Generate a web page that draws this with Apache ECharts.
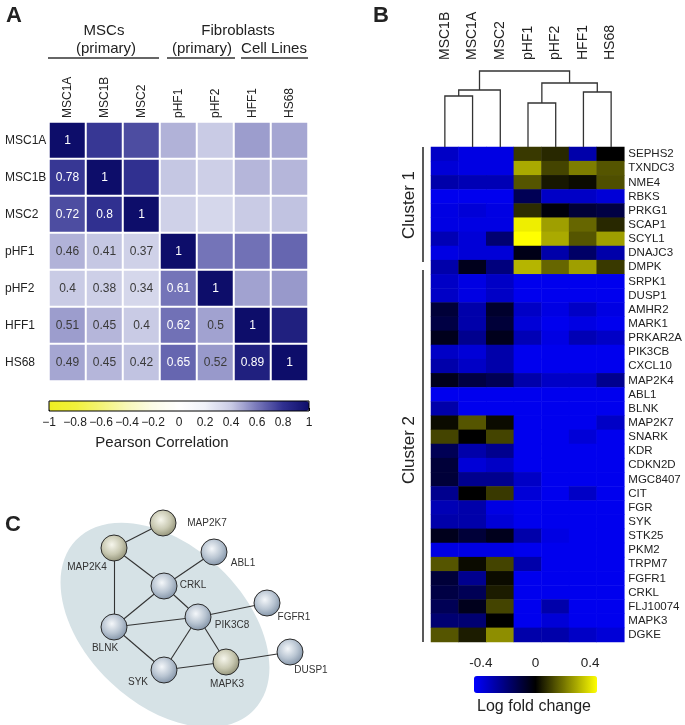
<!DOCTYPE html>
<html><head><meta charset="utf-8">
<script src="https://cdn.jsdelivr.net/npm/echarts@6/dist/echarts.min.js"></script>
<style>html,body{margin:0;padding:0;background:#fff}#c{width:685px;height:725px}</style>
</head><body><div id="c"></div>
<script>
// ---------- Panel A data ----------
const corrSamples = ['MSC1A','MSC1B','MSC2','pHF1','pHF2','HFF1','HS68'];
const corrMatrix = [
  [1,0.78,0.72,0.46,0.4,0.51,0.49],
  [0.78,1,0.8,0.41,0.38,0.45,0.45],
  [0.72,0.8,1,0.37,0.34,0.4,0.42],
  [0.46,0.41,0.37,1,0.61,0.62,0.65],
  [0.4,0.38,0.34,0.61,1,0.5,0.52],
  [0.51,0.45,0.4,0.62,0.5,1,0.89],
  [0.49,0.45,0.42,0.65,0.52,0.89,1]
];
const corrMin = -1, corrMax = 1, corrTickStep = 0.2;

// ---------- Panel B data ----------
const geneSamples = ['MSC1B','MSC1A','MSC2','pHF1','pHF2','HFF1','HS68'];
const genes = ['SEPHS2','TXNDC3','NME4','RBKS','PRKG1','SCAP1','SCYL1','DNAJC3','DMPK',
  'SRPK1','DUSP1','AMHR2','MARK1','PRKAR2A','PIK3CB','CXCL10','MAP2K4','ABL1','BLNK',
  'MAP2K7','SNARK','KDR','CDKN2D','MGC8407','CIT','FGR','SYK','STK25','PKM2','TRPM7',
  'FGFR1','CRKL','FLJ10074','MAPK3','DGKE'];
const foldChange = [
  [-0.35,-0.4,-0.4,0.1,0.07,-0.3,0.0],
  [-0.38,-0.4,-0.4,0.3,0.12,0.22,0.15],
  [-0.3,-0.32,-0.32,0.15,0.04,0.02,0.14],
  [-0.42,-0.42,-0.42,-0.15,-0.35,-0.35,-0.38],
  [-0.4,-0.38,-0.4,0.08,-0.02,-0.1,-0.12],
  [-0.4,-0.4,-0.4,0.42,0.28,0.18,0.07],
  [-0.32,-0.38,-0.2,0.45,0.3,0.15,0.28],
  [-0.4,-0.38,-0.38,-0.04,-0.3,-0.18,-0.3],
  [-0.3,-0.05,-0.22,0.32,0.18,0.28,0.1],
  [-0.35,-0.4,-0.35,-0.42,-0.42,-0.42,-0.42],
  [-0.35,-0.4,-0.35,-0.42,-0.42,-0.42,-0.42],
  [-0.1,-0.3,-0.08,-0.35,-0.4,-0.35,-0.4],
  [-0.12,-0.3,-0.1,-0.38,-0.42,-0.4,-0.42],
  [-0.05,-0.25,-0.05,-0.32,-0.4,-0.32,-0.35],
  [-0.35,-0.38,-0.3,-0.42,-0.42,-0.42,-0.42],
  [-0.3,-0.35,-0.3,-0.42,-0.42,-0.42,-0.42],
  [-0.05,-0.12,-0.15,-0.3,-0.35,-0.35,-0.25],
  [-0.42,-0.42,-0.42,-0.42,-0.42,-0.42,-0.42],
  [-0.3,-0.42,-0.42,-0.42,-0.42,-0.42,-0.42],
  [0.02,0.15,0.02,-0.42,-0.42,-0.42,-0.35],
  [0.12,0.0,0.12,-0.42,-0.42,-0.38,-0.42],
  [-0.15,-0.3,-0.25,-0.42,-0.42,-0.42,-0.42],
  [-0.1,-0.38,-0.35,-0.42,-0.42,-0.42,-0.42],
  [-0.1,-0.25,-0.25,-0.35,-0.42,-0.42,-0.42],
  [-0.25,0.0,0.1,-0.38,-0.42,-0.35,-0.42],
  [-0.32,-0.3,-0.4,-0.42,-0.42,-0.42,-0.42],
  [-0.3,-0.3,-0.38,-0.42,-0.42,-0.42,-0.42],
  [-0.05,-0.1,-0.05,-0.3,-0.4,-0.42,-0.42],
  [-0.4,-0.4,-0.4,-0.42,-0.42,-0.42,-0.42],
  [0.15,0.02,0.12,-0.3,-0.42,-0.42,-0.42],
  [-0.1,-0.25,0.02,-0.42,-0.42,-0.42,-0.42],
  [-0.12,-0.15,0.05,-0.42,-0.42,-0.42,-0.42],
  [-0.15,-0.05,0.12,-0.42,-0.3,-0.42,-0.42],
  [-0.2,-0.2,0.0,-0.42,-0.38,-0.42,-0.42],
  [0.15,0.05,0.25,-0.3,-0.3,-0.35,-0.38]
];
const foldMin = -0.45, foldMax = 0.45;
const foldTickLabels = [-0.4, 0, 0.4];
// dendrogram merges: [childA, childB, height]; leaves are 0..6, merges numbered 7..
const dendroMerges = [[0,1,0.51],[7,2,0.57],[3,4,0.44],[5,6,0.55],[9,10,0.64],[8,11,0.76]];

// ---------- Panel C data ----------
const netNodes = ['MAP2K7','MAP2K4','ABL1','CRKL','FGFR1','PIK3C8','BLNK','MAPK3','SYK','DUSP1'];
const netX = [163,114,214,164,267,198,114,226,164,290];
const netY = [23,48,52,86,103,117,127,162,170,152];
const netYellow = ['MAP2K7','MAP2K4','MAPK3'];
const netLinks = [['MAP2K7','MAP2K4'],['MAP2K4','CRKL'],['MAP2K4','BLNK'],['ABL1','CRKL'],
  ['CRKL','BLNK'],['CRKL','PIK3C8'],['BLNK','PIK3C8'],['BLNK','SYK'],['PIK3C8','FGFR1'],
  ['PIK3C8','SYK'],['PIK3C8','MAPK3'],['SYK','MAPK3'],['MAPK3','DUSP1']];

// ---------- build ----------
const FONT = 'Arial, "Liberation Sans", sans-serif';
const TXT = '#222';

const corrData = [];
corrMatrix.forEach((row, r) => row.forEach((v, c) => {
  const item = {value: [c, r, v]};
  if (r >= c) item.label = {show: true, color: v >= 0.55 ? '#fff' : '#3a3a3a'};
  else item.label = {show: false};
  corrData.push(item);
}));

const foldData = [];
foldChange.forEach((row, r) => row.forEach((v, c) => foldData.push([c, r, v])));

// dendrogram segments
const nodeX = geneSamples.map((_, i) => i);
const nodeH = geneSamples.map(() => 0);
const dendroLines = [];
dendroMerges.forEach(([a, b, h]) => {
  dendroLines.push({coords: [[nodeX[a], nodeH[a]], [nodeX[a], h], [nodeX[b], h], [nodeX[b], nodeH[b]]]});
  nodeX.push((nodeX[a] + nodeX[b]) / 2);
  nodeH.push(h);
});

// network label offsets (style)
const labelOffsets = {
  MAP2K7: [44, 0], MAP2K4: [-27, 19], ABL1: [29, 11], CRKL: [29, -1], FGFR1: [27, 14],
  PIK3C8: [34, 8], BLNK: [-9, 21], MAPK3: [1, 22], SYK: [-26, 12], DUSP1: [21, 18]
};
const sphere = (yellow) => ({
  type: 'radial', x: 0.42, y: 0.38, r: 0.65,
  colorStops: yellow
    ? [{offset: 0, color: '#f6f6ec'}, {offset: 0.55, color: '#c9c9b2'}, {offset: 1, color: '#8e8e74'}]
    : [{offset: 0, color: '#f4f7fa'}, {offset: 0.55, color: '#b9c5d2'}, {offset: 1, color: '#7f90a4'}]
});
const graphNodes = netNodes.map((n, i) => ({
  name: n, value: [netX[i], netY[i]],
  itemStyle: {color: sphere(netYellow.includes(n)), borderColor: '#2a2a2a', borderWidth: 1},
  label: {show: true, position: 'inside', offset: labelOffsets[n], formatter: n,
          fontSize: 10, color: '#333', fontFamily: FONT}
}));
const graphLinks = netLinks.map(([s, t]) => ({source: s, target: t}));

const fmtMinus = v => (Math.abs(v) < 1e-9 ? '0' : String(+v.toFixed(2)).replace('-', '\u2212'));

const hdr = (text, x, y, size, weight) => ({
  type: 'text', x, y, style: {text, fontSize: size, fontWeight: weight || 'normal', fontFamily: FONT,
  fill: TXT, align: 'center', verticalAlign: 'middle'}
});
const hline = (x1, x2, y) => ({type: 'line', shape: {x1, y1: y, x2, y2: y}, style: {stroke: '#333', lineWidth: 1.5}});
const vline = (x, y1, y2) => ({type: 'line', shape: {x1: x, y1, x2: x, y2}, style: {stroke: '#222', lineWidth: 1.5}});

const chart = echarts.init(document.getElementById('c'), null, {renderer: 'canvas'});
chart.setOption({
  animation: false,
  backgroundColor: '#fff',
  textStyle: {fontFamily: FONT},
  grid: [
    {left: 49, top: 122, width: 259, height: 259},             // 0 corr heatmap
    {left: 431, top: 147, width: 194, height: 495},            // 1 fold heatmap
    {left: 431, top: 66, width: 194, height: 81},              // 2 dendrogram
    {left: 0, top: 500, width: 340, height: 225},              // 3 network
    {left: 49, top: 401, width: 260, height: 10},              // 4 corr colorbar axis
    {left: 474, top: 676, width: 123, height: 17}              // 5 fold colorbar axis
  ],
  xAxis: [
    {gridIndex: 0, type: 'category', data: corrSamples, position: 'top',
     axisLine: {show: false}, axisTick: {show: false},
     axisLabel: {rotate: -90, margin: 4, fontSize: 12, color: TXT, fontFamily: FONT}},
    {gridIndex: 1, type: 'category', data: geneSamples, position: 'top',
     axisLine: {show: false}, axisTick: {show: false},
     axisLabel: {rotate: -90, margin: 87, fontSize: 14, color: TXT, fontFamily: FONT}},
    {gridIndex: 2, type: 'value', min: -0.5, max: 6.5, show: false},
    {gridIndex: 3, type: 'value', min: 0, max: 340, show: false},
    {gridIndex: 4, type: 'value', min: corrMin, max: corrMax, interval: corrTickStep, position: 'bottom',
     axisLine: {show: false}, splitLine: {show: false},
     axisTick: {show: true, inside: true, length: 3, lineStyle: {color: '#000'}},
     axisLabel: {margin: 6, fontSize: 12, color: TXT, fontFamily: FONT, formatter: fmtMinus}},
    {gridIndex: 5, type: 'value', min: foldMin, max: foldMax, position: 'top',
     axisLine: {show: false}, splitLine: {show: false}, axisTick: {show: false},
     axisLabel: {margin: 6, fontSize: 13.5, color: TXT, fontFamily: FONT, customValues: foldTickLabels,
                 formatter: v => (v === 0 ? '0' : String(v))}}
  ],
  yAxis: [
    {gridIndex: 0, type: 'category', data: corrSamples, inverse: true,
     axisLine: {show: false}, axisTick: {show: false},
     axisLabel: {align: 'left', margin: 44, fontSize: 12, color: TXT, fontFamily: FONT}},
    {gridIndex: 1, type: 'category', data: genes, inverse: true, position: 'right',
     axisLine: {show: false}, axisTick: {show: false},
     axisLabel: {margin: 4, fontSize: 11.5, color: TXT, fontFamily: FONT, interval: 0}},
    {gridIndex: 2, type: 'value', min: 0, max: 0.81, show: false},
    {gridIndex: 3, type: 'value', min: 0, max: 225, inverse: true, show: false},
    {gridIndex: 4, type: 'value', show: false},
    {gridIndex: 5, type: 'value', show: false}
  ],
  visualMap: [
    {type: 'continuous', seriesIndex: 0, min: corrMin, max: corrMax, orient: 'horizontal',
     left: 49, top: 401, itemWidth: 10, itemHeight: 260, padding: 0, calculable: false,
     text: null, showLabel: false, hoverLink: false,
     inRange: {color: ['#eeee22','#f1f13a','#f4f476','#f8f8b8','#fcfce8','#ffffff',
                       '#f0f2f9','#c9cbe5','#7878ba','#303090','#0d0d6a']}},
    {type: 'continuous', seriesIndex: 1, min: foldMin, max: foldMax, orient: 'horizontal',
     left: 474, top: 676, itemWidth: 17, itemHeight: 123, padding: 0, calculable: false,
     text: null, showLabel: false, hoverLink: false,
     inRange: {color: ['#0000ff', '#000000', '#ffff00']}}
  ],
  series: [
    {type: 'heatmap', xAxisIndex: 0, yAxisIndex: 0, data: corrData,
     itemStyle: {borderColor: '#fff', borderWidth: 2},
     label: {fontSize: 12, fontFamily: FONT, formatter: p => String(p.value[2])}},
    {type: 'heatmap', xAxisIndex: 1, yAxisIndex: 1, data: foldData},
    {type: 'lines', coordinateSystem: 'cartesian2d', xAxisIndex: 2, yAxisIndex: 2, polyline: true,
     data: dendroLines, lineStyle: {color: '#333', width: 1.3, opacity: 1}},
    {type: 'graph', coordinateSystem: 'cartesian2d', xAxisIndex: 3, yAxisIndex: 3,
     symbolSize: 26, data: graphNodes, links: graphLinks, z: 3,
     lineStyle: {color: '#333', width: 1.1, opacity: 1, curveness: 0}}
  ],
  graphic: [
    {type: 'ellipse', x: 165, y: 625, rotation: -0.76, shape: {cx: 0, cy: 0, rx: 123, ry: 79},
     style: {fill: '#d6e2e6'}, z: 0},
    {type: 'rect', shape: {x: 49, y: 401, width: 260, height: 10},
     style: {fill: null, stroke: '#000', lineWidth: 1}, z: 100},
    hdr('A', 14, 16, 22, 'bold'),
    hdr('B', 381, 16, 22, 'bold'),
    hdr('C', 13, 525, 22, 'bold'),
    hdr('MSCs', 104, 31, 15), hdr('(primary)', 106, 49, 15),
    hdr('Fibroblasts', 238, 31, 15), hdr('(primary)', 202, 49, 15), hdr('Cell Lines', 274, 49, 15),
    hline(48, 159, 58), hline(167, 235, 58), hline(241, 308, 58),
    hdr('Pearson Correlation', 162, 443, 15),
    hdr('Log fold change', 534, 707, 16),
    vline(423, 147, 262), vline(423, 270, 642),
    Object.assign(hdr('Cluster 1', 409, 205, 17), {rotation: Math.PI / 2}),
    Object.assign(hdr('Cluster 2', 409, 450, 17), {rotation: Math.PI / 2})
  ]
});
</script></body></html>
